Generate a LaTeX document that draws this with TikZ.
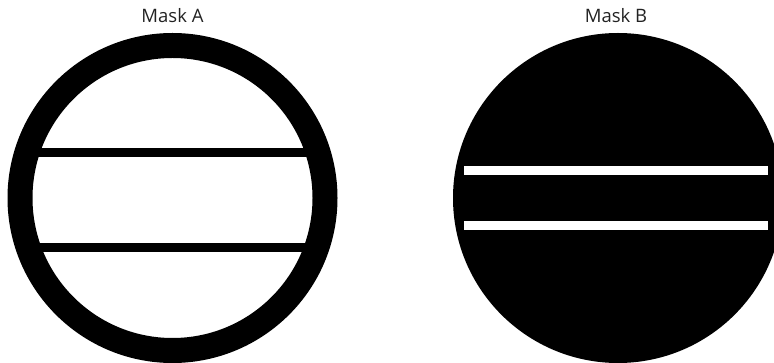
\documentclass[tikz,border=0pt]{standalone}
\usepackage{fontspec}
\setmainfont{Open Sans}
\definecolor{labelgray}{HTML}{222222}
\begin{document}
\begin{tikzpicture}[x=1pt,y=-1pt,
  masklabel/.style={font=\fontsize{18.5}{18.5}\selectfont, text=labelgray, anchor=base, inner sep=0pt}]
\useasboundingbox (0,0) rectangle (774,363);
% Mask A
\fill[black, even odd rule] (172.5,198) circle (165) (172.5,198) circle (140);
\begin{scope}
  \clip (172.5,198) circle (141);
  \fill[black] (0,148) rectangle (345,157);
  \fill[black] (0,243) rectangle (345,252);
\end{scope}
\node[masklabel] (la) at (172.5,23) {Mask A};
% Mask B
\fill[black] (618,198) circle (165);
\fill[white] (464,166) rectangle (768,175);
\fill[white] (464,221) rectangle (768,230);
\node[masklabel] (lb) at (616,23) {Mask B};
\end{tikzpicture}
\end{document}
